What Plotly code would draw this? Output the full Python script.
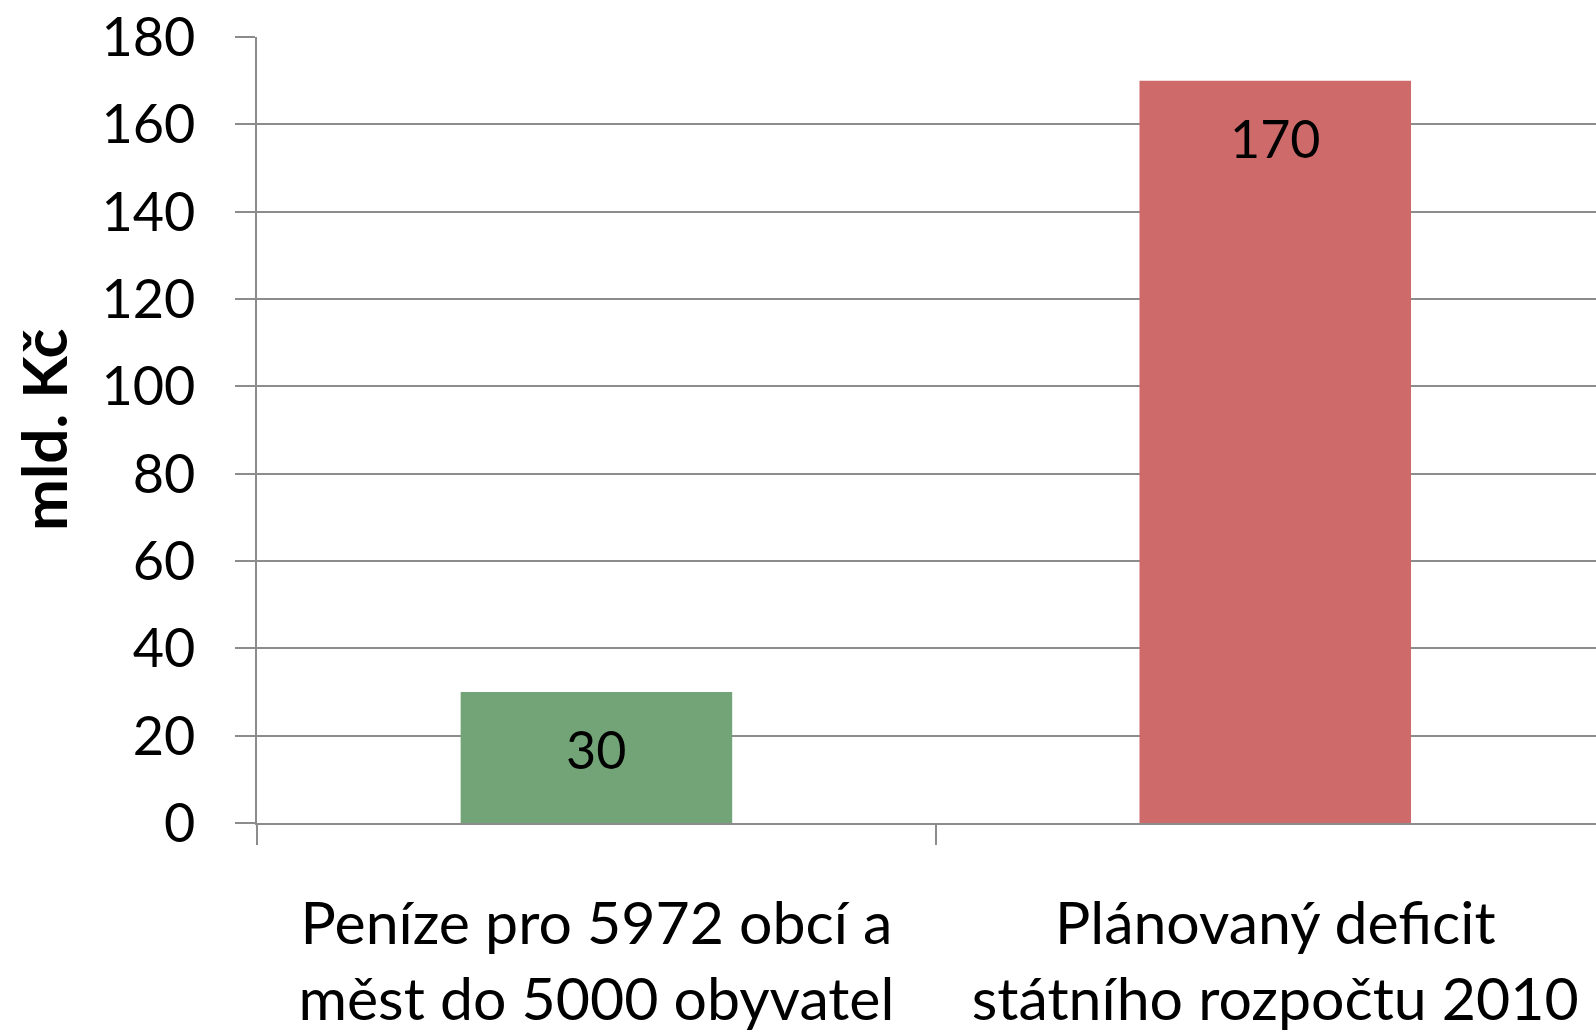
import plotly.graph_objects as go

categories = ["Peníze pro 5972 obcí a<br>měst do 5000 obyvatel",
              "Plánovaný deficit<br>státního rozpočtu 2010"]
values = [30, 170]
bar_colors = ["#73A478", "#CF6A6A"]
y_ticks = [0, 20, 40, 60, 80, 100, 120, 140, 160, 180]
y_title = "mld. Kč"

FONT = "Lato"
GRID = "#8C8C8C"

fig = go.Figure()
fig.add_trace(go.Bar(
    x=categories, y=values, marker=dict(color=bar_colors, line=dict(width=0)),
    width=0.40, hoverinfo="skip", showlegend=False,
))

for c, v in zip(categories, values):
    fig.add_annotation(x=c, y=v, xref="x", yref="y", text=str(v),
                       showarrow=False, yshift=-57, yanchor="middle",
                       font=dict(family=FONT, size=52, color="black"))

fig.add_annotation(xref="paper", yref="paper", x=0, y=0.5, xshift=-214,
                   xanchor="center", yanchor="middle",
                   text=y_title, textangle=-90, showarrow=False,
                   font=dict(family=FONT, size=62, color="black", weight="bold"))

fig.update_layout(
    width=1596, height=1032, autosize=False,
    margin=dict(l=257, r=0, t=37, b=209, pad=0, autoexpand=False),
    plot_bgcolor="white", paper_bgcolor="white",
    bargap=0.6,
    xaxis=dict(type="category", range=[-0.5, 1.4725], tickson="boundaries",
               ticks="outside", ticklen=20, tickwidth=1.5, tickcolor=GRID,
               showline=True, linecolor=GRID, linewidth=1.5, showgrid=False,
               tickfont=dict(family=FONT, size=59, color="black"),
               ticklabelstandoff=48, fixedrange=True, automargin=False),
    yaxis=dict(range=[0, 180], tickvals=y_ticks, ticks="outside", ticklen=20,
               tickwidth=1.5, tickcolor=GRID, showline=True, linecolor=GRID,
               linewidth=1.5, showgrid=True, gridcolor=GRID, gridwidth=1.5,
               zeroline=False, automargin=False,
               tickfont=dict(family=FONT, size=54, color="black"),
               ticklabelstandoff=29, fixedrange=True),
)

fig.write_html("out.html", config={"displayModeBar": False},
               post_script="document.body.style.margin='0';")
